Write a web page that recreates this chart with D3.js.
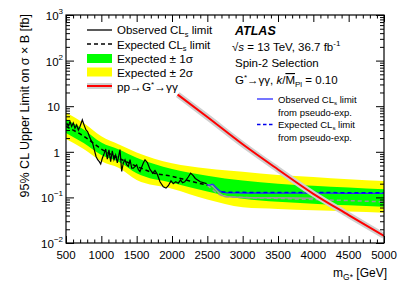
<!DOCTYPE html>
<html><head><meta charset="utf-8">
<script src="https://cdn.jsdelivr.net/npm/d3@7"></script>
<style>
body{margin:0;background:#fff;}
text{font-family:"Liberation Sans",Arial,Helvetica,sans-serif;fill:#000;}
</style></head><body>
<svg id="c" width="407" height="292"></svg>
<script>
// ---- data ----
const bandMass = [500, 750, 1000, 1250, 1500, 2000, 2500, 3000, 3500, 4000, 4500, 5000];
const yelHi = [7.2, 4.3, 2.2, 1.45, 0.97, 0.56, 0.43, 0.365, 0.31, 0.28, 0.25, 0.23];
const grnHi = [5.2, 3.1, 1.6, 1.12, 0.74, 0.42, 0.30, 0.235, 0.2, 0.18, 0.165, 0.151];
const grnLo = [2.6, 1.55, 0.85, 0.6, 0.34, 0.21, 0.135, 0.093, 0.08, 0.073, 0.067, 0.0625];
const yelLo = [1.9, 1.15, 0.62, 0.44, 0.24, 0.155, 0.09, 0.061, 0.056, 0.052, 0.049, 0.046];

const expMass = [500, 600, 750, 900, 1000, 1250, 1500, 1750, 2000, 2250, 2500];
const expVal  = [3.6, 3.0, 2.2, 1.5, 1.15, 0.72, 0.48, 0.34, 0.29, 0.23, 0.185];

const obsMass = [510,533,557,580,603,627,651,675,698,731,755,783,807,830,854,877,901,925,948,971,991,1014,1038,1062,1085,1108,1132,1155,1179,1203,1226,1264,1288,1311,1335,1359,1382,1406,1430,1453,1500,1523,1547,1594,1618,1651,1689,1727,1759,1792,1830,1877,1915,1948,1986,2018,2052,2089,2120,2150,2180,2230,2264,2300,2330,2400,2490];
const obsVal  = [4.3,3.7,4.6,3.6,4.3,3.3,3.9,3.0,3.6,5.0,3.9,3.0,2.75,2.2,1.8,1.55,1.1,0.79,0.67,0.61,0.54,0.72,0.9,1.15,0.69,1.1,0.61,1.05,0.67,0.85,0.57,1.12,0.37,0.57,0.67,0.52,0.48,0.67,0.44,0.44,0.52,0.41,0.37,0.57,0.67,0.58,0.41,0.34,0.39,0.32,0.22,0.17,0.16,0.18,0.23,0.20,0.22,0.205,0.24,0.21,0.22,0.28,0.34,0.30,0.26,0.22,0.20];

const pseObsMass = [2490, 2530, 2570, 2630, 2700, 2780, 3000, 3500, 4000, 4500, 5000];
const pseObsVal  = [0.19, 0.185, 0.195, 0.16, 0.133, 0.126, 0.125, 0.124, 0.124, 0.123, 0.123];
const pseExpMass = [2700, 3000, 3500, 4000, 4500, 5000];
const pseExpVal  = [0.131, 0.129, 0.128, 0.128, 0.127, 0.127];

const asyObsMass = [2490, 2540, 2600, 2680, 2750, 3000, 3500, 4000];
const asyObsVal  = [0.19, 0.19, 0.16, 0.12, 0.105, 0.1, 0.098, 0.096];
const asyExpMass = [2500, 2750, 3000, 3500, 4000, 4500, 5000];
const asyExpVal  = [0.185, 0.105, 0.1, 0.095, 0.09, 0.085, 0.08];

const thMass = [2080, 2500, 3000, 3500, 4000, 4500, 5000];
const thVal  = [18, 5.8, 1.46, 0.41, 0.12, 0.041, 0.0143];

const xMajor = [500,1000,1500,2000,2500,3000,3500,4000,4500,5000];
const yMajor = [0.01,0.1,1,10,100,1000];
const yLabels = [["10","−2"],["10","−1"],["1",""],["10",""],["10","2"],["10","3"]];

// ---- scales ----
const X0=66, X1=384, Y0=243, Y1=15;
const x = d3.scaleLinear().domain([500,5000]).range([X0,X1]);
const y = d3.scaleLog().domain([0.01,1000]).range([Y0,Y1]);
const svg = d3.select('#c');
svg.append('rect').attr('width',407).attr('height',292).attr('fill','#fff');
svg.append('defs').append('clipPath').attr('id','clip')
  .append('rect').attr('x',X0).attr('y',Y1).attr('width',X1-X0).attr('height',Y0-Y1);
const plot = svg.append('g').attr('clip-path','url(#clip)');

const area=(hi,lo)=>d3.area().x((d,i)=>x(bandMass[i])).y0((d,i)=>y(lo[i])).y1((d,i)=>y(hi[i])).curve(d3.curveMonotoneX);
plot.append('path').datum(bandMass).attr('d',area(yelHi,yelLo)).attr('fill','#ffff00');
plot.append('path').datum(bandMass).attr('d',area(grnHi,grnLo)).attr('fill','#00ff00');

const line=(ms,vs,c)=>d3.line().x((d,i)=>x(ms[i])).y((d,i)=>y(vs[i])).curve(c||d3.curveLinear)(ms);

plot.append('path').attr('d',line(asyObsMass,asyObsVal,d3.curveMonotoneX)).attr('fill','none').attr('stroke','#999').attr('stroke-width',1.5);
plot.append('path').attr('d',line(asyExpMass,asyExpVal,d3.curveMonotoneX)).attr('fill','none').attr('stroke','#999').attr('stroke-width',1.5).attr('stroke-dasharray','4,3');
plot.append('path').attr('d',line(pseObsMass,pseObsVal,d3.curveMonotoneX)).attr('fill','none').attr('stroke','#2a2aff').attr('stroke-width',1.3);
plot.append('path').attr('d',line(pseExpMass,pseExpVal,d3.curveMonotoneX)).attr('fill','none').attr('stroke','#0000ee').attr('stroke-width',1.5).attr('stroke-dasharray','4,3');

plot.append('path').attr('d',line(expMass,expVal,d3.curveMonotoneX)).attr('fill','none').attr('stroke','#000').attr('stroke-width',1.5).attr('stroke-dasharray','4,3');
plot.append('path').attr('d',line(obsMass,obsVal)).attr('fill','none').attr('stroke','#000').attr('stroke-width',1.2);

plot.append('path').attr('d',line(thMass,thVal,d3.curveMonotoneX)).attr('fill','none').attr('stroke','#cfcfcf').attr('stroke-width',6);
plot.append('path').attr('d',line(thMass,thVal,d3.curveMonotoneX)).attr('fill','none').attr('stroke','#ff0000').attr('stroke-width',2);

// ---- axes (ticks inside, ROOT style) ----
const xMinor = d3.range(500,5001,100).filter(v=>v%500!==0);
const yMinor = [];
yMajor.slice(0,-1).forEach(d=>{for(let k=2;k<10;k++) yMinor.push(d*k);});
function addAxis(gen, tr, vals, size){
  const a = svg.append('g').attr('transform',tr).call(gen.tickValues(vals).tickSize(size).tickFormat(''));
  a.select('.domain').remove();
  a.selectAll('line').attr('stroke','#000');
}
addAxis(d3.axisBottom(x),`translate(0,${Y0})`,xMajor,-7);
addAxis(d3.axisBottom(x),`translate(0,${Y0})`,xMinor,-3.5);
addAxis(d3.axisTop(x),`translate(0,${Y1})`,xMajor,-7);
addAxis(d3.axisTop(x),`translate(0,${Y1})`,xMinor,-3.5);
addAxis(d3.axisLeft(y),`translate(${X0},0)`,yMajor,-8);
addAxis(d3.axisLeft(y),`translate(${X0},0)`,yMinor,-4);
addAxis(d3.axisRight(y),`translate(${X1},0)`,yMajor,-8);
addAxis(d3.axisRight(y),`translate(${X1},0)`,yMinor,-4);
svg.append('rect').attr('x',X0).attr('y',Y1).attr('width',X1-X0).attr('height',Y0-Y1)
  .attr('fill','none').attr('stroke','#000').attr('stroke-width',1.2);

// tick labels
svg.append('g').selectAll('text').data(xMajor).join('text')
  .attr('x',d=>x(d)).attr('y',259).attr('text-anchor','middle').attr('font-size',11.5).text(d=>d);
const yl = svg.append('g').selectAll('text').data(yMajor).join('text')
  .attr('x',(d,i)=>yLabels[i][1]?63:60).attr('y',d=>y(d)+5).attr('text-anchor','end').attr('font-size',11.5);
yl.append('tspan').text((d,i)=>yLabels[i][0]);
yl.append('tspan').attr('dy',-6).attr('font-size',8).text((d,i)=>yLabels[i][1]);

// axis titles
const xt = svg.append('text').attr('x',387).attr('y',277).attr('text-anchor','end').attr('font-size',12);
xt.append('tspan').text('m');
xt.append('tspan').attr('dy',3).attr('font-size',8.5).text('G*');
xt.append('tspan').attr('dy',-3).text(' [GeV]');
svg.append('text').attr('transform','translate(29,14) rotate(-90)').attr('text-anchor','end')
  .attr('font-size',12.5).text('95% CL Upper Limit on σ × B [fb]');

// ---- legend left ----
const L = svg.append('g');
const lx0=87, lx1=112, tx=117;
L.append('line').attr('x1',lx0).attr('x2',lx1).attr('y1',30).attr('y2',30).attr('stroke','#000').attr('stroke-width',1.3);
L.append('line').attr('x1',lx0).attr('x2',lx1).attr('y1',44).attr('y2',44).attr('stroke','#000').attr('stroke-width',1.5).attr('stroke-dasharray','4,3');
L.append('rect').attr('x',lx0).attr('y',54).attr('width',lx1-lx0).attr('height',9).attr('fill','#00ff00');
L.append('rect').attr('x',lx0).attr('y',67.5).attr('width',lx1-lx0).attr('height',9).attr('fill','#ffff00');
L.append('rect').attr('x',lx0).attr('y',83).attr('width',lx1-lx0).attr('height',6).attr('fill','#cfcfcf');
L.append('line').attr('x1',lx0).attr('x2',lx1).attr('y1',86).attr('y2',86).attr('stroke','#ff0000').attr('stroke-width',2);
function clText(g,xx,yy,pre,post,fs){
  const t=g.append('text').attr('x',xx).attr('y',yy).attr('font-size',fs);
  t.append('tspan').text(pre);
  t.append('tspan').attr('dy',fs*0.25).attr('font-size',fs*0.65).text('s');
  t.append('tspan').attr('dy',-fs*0.25).text(post);
  return t;
}
clText(L,tx,34,'Observed CL',' limit',11.5);
clText(L,tx,48.5,'Expected CL',' limit',11.5);
L.append('text').attr('x',tx).attr('y',63).attr('font-size',11.8).text('Expected ± 1σ');
L.append('text').attr('x',tx).attr('y',77).attr('font-size',11.8).text('Expected ± 2σ');
const pp=L.append('text').attr('x',tx).attr('y',91).attr('font-size',11.8);
pp.append('tspan').text('pp→G');
pp.append('tspan').attr('dy',-4).attr('font-size',8).text('*');
pp.append('tspan').attr('dy',4).text('→γγ');

// ---- ATLAS block ----
const R = svg.append('g');
R.append('text').attr('x',235).attr('y',35).attr('font-size',12.5).attr('font-weight','bold').attr('font-style','italic').text('ATLAS');
const s1=R.append('text').attr('x',232).attr('y',51).attr('font-size',11.5);
s1.append('tspan').text('√');
s1.append('tspan').attr('font-style','italic').text('s');
s1.append('tspan').text(' = 13 TeV, 36.7 fb');
s1.append('tspan').attr('dy',-5).attr('font-size',8).text('-1');
R.append('text').attr('x',235).attr('y',67).attr('font-size',11.5).text('Spin-2 Selection');
const s3=R.append('text').attr('x',235).attr('y',84).attr('font-size',11.5);
s3.append('tspan').text('G');
s3.append('tspan').attr('dy',-4).attr('font-size',8).text('*');
s3.append('tspan').attr('dy',4).text('→γγ, ');
s3.append('tspan').attr('font-style','italic').text('k');
s3.append('tspan').text('/');
s3.append('tspan').attr('style','text-decoration:overline').text('M');
s3.append('tspan').attr('dy',3).attr('font-size',8).text('Pl');
s3.append('tspan').attr('dy',-3).text(' = 0.10');

// ---- pseudo-exp legend ----
R.append('line').attr('x1',257).attr('x2',273).attr('y1',99).attr('y2',99).attr('stroke','#2a2aff').attr('stroke-width',1.3);
R.append('line').attr('x1',257).attr('x2',273).attr('y1',124.5).attr('y2',124.5).attr('stroke','#0000ee').attr('stroke-width',1.5).attr('stroke-dasharray','3.5,2.5');
clText(R,278,102.5,'Observed CL',' limit',9.5);
R.append('text').attr('x',278).attr('y',115.5).attr('font-size',9.5).text('from pseudo-exp.');
clText(R,278,128,'Expected CL',' limit',9.5);
R.append('text').attr('x',278).attr('y',141).attr('font-size',9.5).text('from pseudo-exp.');
</script>
</body></html>
